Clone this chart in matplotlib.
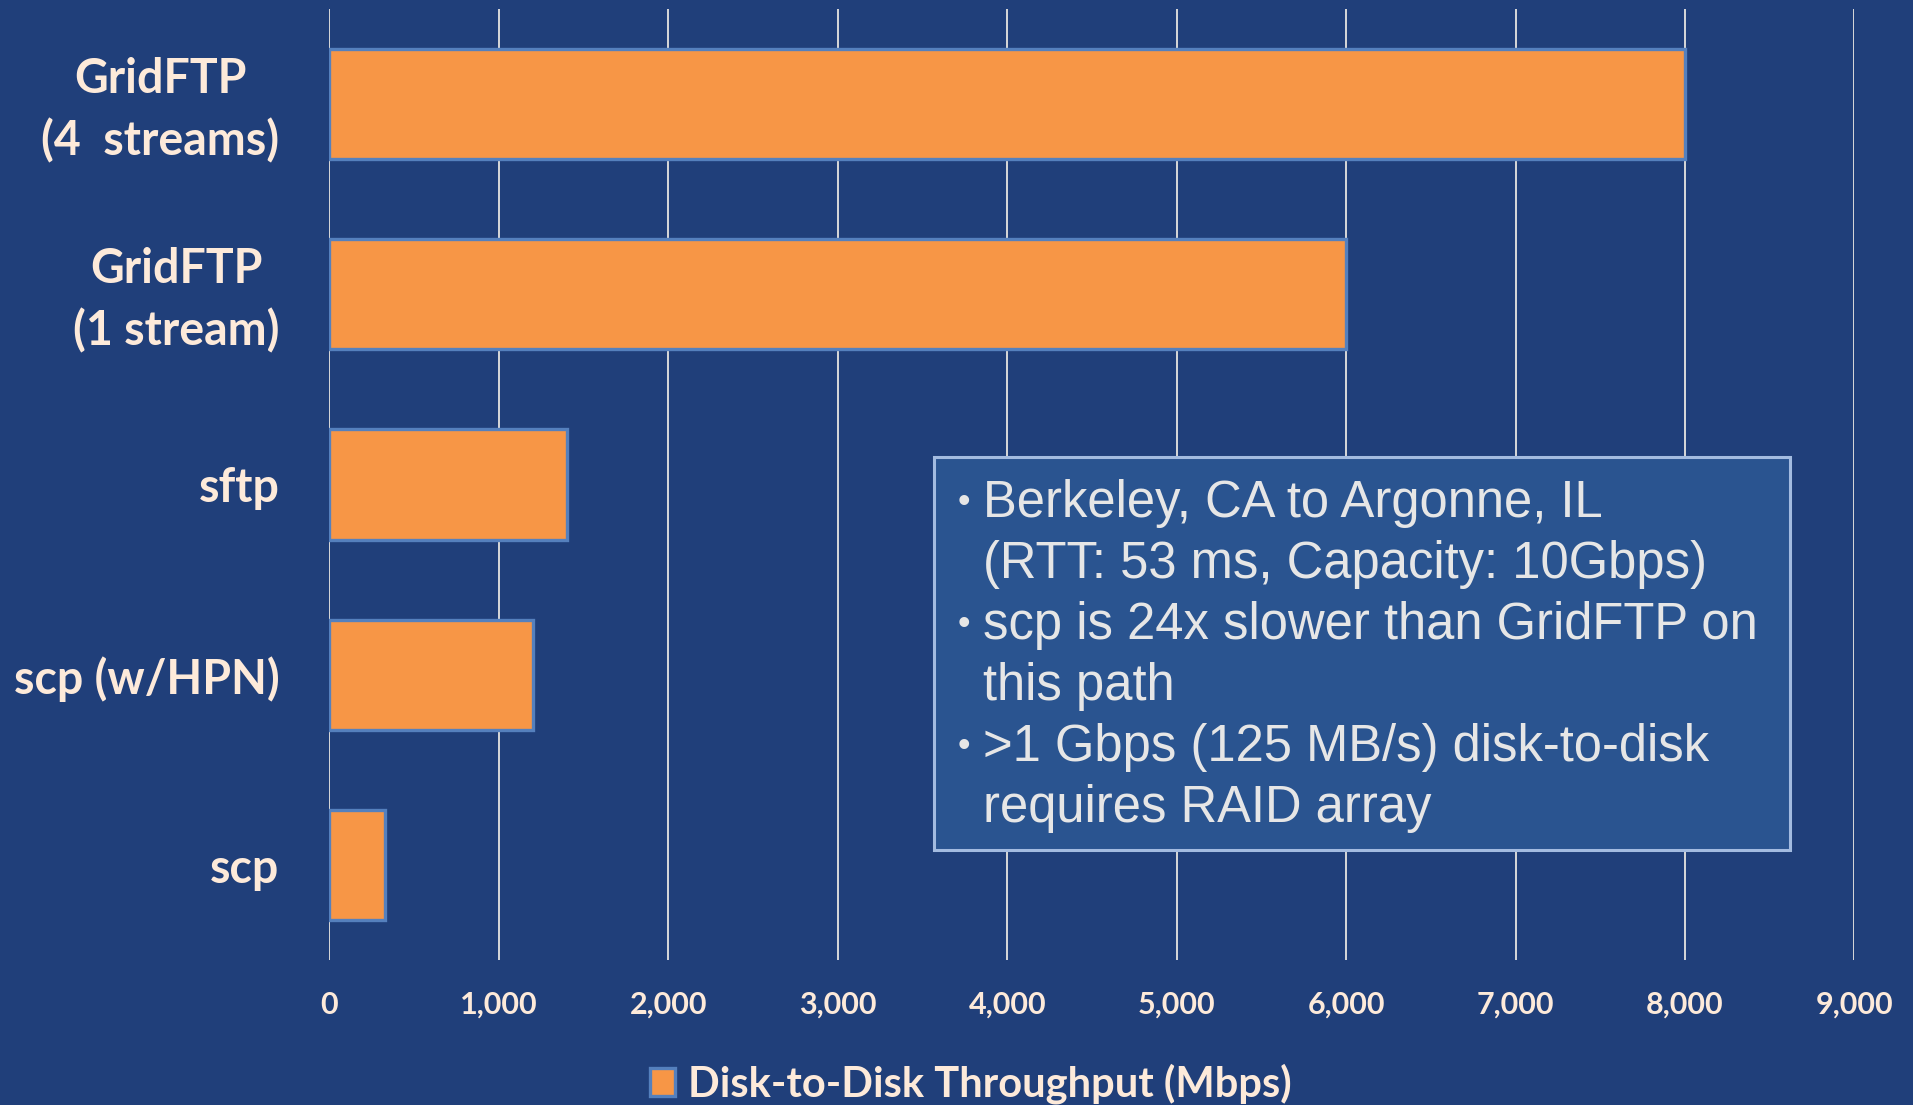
import matplotlib
matplotlib.use("Agg")
import matplotlib.pyplot as plt
from matplotlib.patches import Rectangle
from matplotlib.transforms import ScaledTranslation

############
# data
############
tools = ["GridFTP\n(4  streams)", "GridFTP\n(1 stream)", "sftp", "scp (w/HPN)", "scp"]
throughput = [8000, 6000, 1400, 1200, 330]
x_ticks = [0, 1000, 2000, 3000, 4000, 5000, 6000, 7000, 8000, 9000]
series_name = "Disk-to-Disk Throughput (Mbps)"
notes = [
    ["Berkeley, CA to Argonne, IL", "(RTT: 53 ms, Capacity: 10Gbps)"],
    ["scp is 24x slower than GridFTP on", "this path"],
    [">1 Gbps (125 MB/s) disk-to-disk", "requires RAID array"],
]

############
# style
############
bg = "#203f7a"
orange = "#f79646"
edge = "#5580bd"
cream = "#fdeada"
W, H = 1913, 1105

fig = plt.figure(figsize=(W / 100, H / 100), dpi=100, facecolor=bg)
ax = fig.add_axes([329.4 / W, 1 - 960 / H, (1854.4 - 329.4) / W, (960 - 9) / H])
ax.set_facecolor(bg)

ypos = list(range(len(tools)))
bars = ax.barh(ypos, throughput, height=0.58, color=orange, edgecolor=edge,
               linewidth=2.4, zorder=3, label=series_name)
ax.set_xlim(0, 9000)
ax.set_ylim(len(tools) - 0.5, -0.5)

for x in x_ticks:
    ax.axvline(x, color="#d9d9d9", linewidth=1.4, zorder=1)

for s in ax.spines.values():
    s.set_visible(False)

ax.set_xticks(x_ticks)
ax.set_xticklabels(["{:,}".format(v) for v in x_ticks])
ax.set_yticks(ypos)
ax.set_yticklabels(tools)
ax.tick_params(axis="both", length=0)
ax.tick_params(axis="x", pad=22, labelsize=22, labelcolor=cream)
ax.tick_params(axis="y", pad=36, labelsize=33.5, labelcolor=cream)
for lab in ax.get_xticklabels():
    lab.set_fontfamily("Lato")
    lab.set_fontweight("bold")
for lab in ax.get_yticklabels():
    lab.set_fontfamily("Lato")
    lab.set_fontweight("bold")
    lab.set_linespacing(1.45)
    lab.set_horizontalalignment("right")
    lab.set_multialignment("center")
    if "\n" in lab.get_text():
        # two-line labels sit a little high in the original
        lab.set_transform(lab.get_transform() + ScaledTranslation(0, 0.065, fig.dpi_scale_trans))

############
# note box
############
box = Rectangle((934 / W, 1 - 850 / H), (1790 - 934) / W, (850 - 457) / H,
                transform=fig.transFigure, facecolor="#2a5490",
                edgecolor="#a3bbe0", linewidth=2.2, zorder=5)
fig.patches.append(box)

line_y = 517
step = 61
for group in notes:
    fig.text(958 / W, 1 - (line_y - 5) / H, "\u2022", fontsize=26, color="#e6e6e6",
             family="Liberation Sans", va="baseline", ha="left", zorder=6)
    for line in group:
        fig.text(983 / W, 1 - line_y / H, line, fontsize=36.5, color="#e6e6e6",
                 family="Liberation Sans", va="baseline", ha="left", zorder=6)
        line_y += step

############
# legend
############
leg = fig.legend(handles=[bars], labels=[series_name], loc="center",
                 bbox_to_anchor=((651 + 1290) / 2 / W, 1 - 1084 / H),
                 frameon=False, handlelength=0.6, handleheight=0.67,
                 handletextpad=0.31, borderpad=0,
                 prop={"family": "Lato", "weight": "bold", "size": 30})
for t in leg.get_texts():
    t.set_color(cream)

fig.savefig("out.png", dpi=100, facecolor=bg)
